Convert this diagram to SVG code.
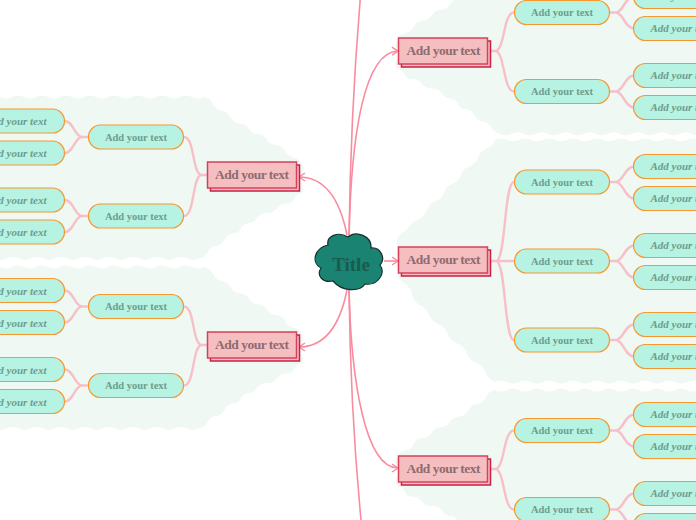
<svg xmlns="http://www.w3.org/2000/svg" xmlns:xlink="http://www.w3.org/1999/xlink" width="696" height="520" viewBox="0 0 696 520">
<style>
text{font-family:"Liberation Serif","DejaVu Serif",serif;text-anchor:middle;font-weight:bold}
.bg{fill:#eff8f3}
.m rect{fill:#f5bfc2;stroke:#d8405a;stroke-width:1.5}
.m rect.s{stroke:#c91f45}
.m text{font-size:13.5px;fill:#8f6b6e}
.b rect{fill:#b6f3e2;stroke:#f5982e;stroke-width:1.2}
.b text{font-size:10.5px;fill:#6f9c90}
.l text{font-style:italic;font-size:11px}
.c{fill:none;stroke:#f98da0;stroke-width:1.6}
.k{fill:none;stroke:#f7c0c9;stroke-width:2.4}
</style>
<defs>
<marker id="a" viewBox="0 0 8 10" refX="7" refY="5" markerWidth="8" markerHeight="10" markerUnits="userSpaceOnUse" orient="auto"><path d="M1 1L7 5L1 9" fill="none" stroke="#f98da0" stroke-width="1.5"/></marker>
<path id="w" class="bg" d="M-12 97q6 -3 12 0q6 3 12 0q6 -3 12 0q6 3 12 0q6 -3 12 0q6 3 12 0q6 -3 12 0q6 3 12 0q6 -3 12 0q6 3 12 0q6 -3 12 0q6 3 12 0q6 -3 12 0q6 3 12 0q6 -3 12 0q6 3 12 0q6 -3 12 0q6 3 12 0q6.3 1.100 9 7q2.700 5.900 9 7q6.300 1.100 9 7q3 5.300 9 5.400q6 .1 9 5.400q3 5.300 9 5.400q6 .1 9 5.400q3 5.300 9 5.400q6 .1 9 5.400q2.350 5.800 8.500 7q-.15 3 0 0q6.150 1.200 8.500 7q3 4.850 0 9.700q-3 4.850 0 9.700q3 4.850 0 9.700q-5.450 0 -7.500 5q-2.050 5 -7.500 5q-6.300 -.35 -10 4.700q-3.700 5.050 -10 4.700q-6.300 -.35 -10 4.700q-2.350 5.150 -8 5.300q-5.650 .15 -8 5.300q-2.350 5.150 -8 5.300q-6.020 .67 -8.500 6.200q-2.480 5.530 -8.500 6.200q-6.020 .67 -8.500 6.200q-2.480 5.530 -8.500 6.200q-6 3 -12 0q-6 -3 -12 0q-6 3 -12 0q-6 -3 -12 0q-6 3 -12 0q-6 -3 -12 0q-6 3 -12 0q-6 -3 -12 0q-6 3 -12 0q-6 -3 -12 0q-6 3 -12 0q-6 -3 -12 0q-6 3 -12 0q-6 -3 -12 0q-6 3 -12 0q-6 -3 -12 0q-6 3 -12 0q-6 -3 -12 0Z"/>
</defs>
<g id="backgrounds">
<use xlink:href="#w" href="#w"/>
<use xlink:href="#w" href="#w" transform="translate(0 170)"/>
<use xlink:href="#w" href="#w" transform="matrix(-1 0 0 1 699 -124.5)"/>
<use xlink:href="#w" href="#w" transform="matrix(-1 0 0 1 699 293)"/>
<path class="bg" d="M397 240q2.900 -7.100 10 -10q2.900 -7.100 10 -10q7.100 -2.900 10 -10q2.150 -6.450 8.500 -8.750q6.350 -2.350 8.500 -8.750q-.01 0 0 0q2.150 -6.450 8.500 -8.750q6.350 -2.350 8.500 -8.750q2.150 -6.450 8.500 -8.750q6.350 -2.350 8.500 -8.750q2.150 -6.450 8.500 -8.750q6.350 -2.350 8.500 -8.750q6 -3 12 0q6 3 12 0q6 -3 12 0q6 3 12 0q6 -3 12 0q6 3 12 0q6 -3 12 0q6 3 12 0q6 -3 12 0q6 3 12 0q6 -3 12 0q6 3 12 0q6 -3 12 0q6 3 12 0q6 -3 12 0q6 3 12 0q6 -3 12 0q6 3 12 0L711 382q-6 3 -12 0q-6 -3 -12 0q-6 3 -12 0q-6 -3 -12 0q-6 3 -12 0q-6 -3 -12 0q-6 3 -12 0q-6 -3 -12 0q-6 3 -12 0q-6 -3 -12 0q-6 3 -12 0q-6 -3 -12 0q-6 3 -12 0q-6 -3 -12 0q-6 3 -12 0q-6 -3 -12 0q-6 3 -12 0q-6 -3 -12 0q-6.800 -2.700 -9.400 -9.600q-2.600 -6.900 -9.400 -9.600q-6.800 -2.700 -9.400 -9.600q-2.600 -6.900 -9.400 -9.600q-6.800 -2.700 -9.400 -9.600q-2.600 -6.900 -9.400 -9.600q-6.800 -2.700 -9.400 -9.600q-2.600 -6.900 -9.400 -9.600q-6.300 -3.800 -7.700 -11q-1.400 -7.200 -7.700 -11q-6.300 -3.800 -7.700 -11Z"/>
</g>
<g id="connectors">
<path class="c" d="M349 240C350 150 355 60 361 -10"/>
<path class="c" d="M349 288C350 380 355 460 362 530"/>
<path class="c" marker-end="url(#a)" d="M349 240C351 130 365 52 398 51"/>
<path class="c" marker-end="url(#a)" d="M349 288C351 380 365 468 398 468"/>
<path class="c" marker-end="url(#a)" d="M347 235C340 200 325 177 299 177"/>
<path class="c" marker-end="url(#a)" d="M347 290C340 325 325 347 299 347"/>
<path class="c" marker-end="url(#a)" d="M384 261H398"/>
<path class="k" d="M490 51H495C505 51 503 12.500 514 12.500M490 51H495C505 51 503 91.500 514 91.500"/>
<path class="k" d="M490 261H496C506 261 504 182 514 182M490 261H514M490 261H496C506 261 504 340 514 340"/>
<path class="k" d="M490 469H495C505 469 503 430.500 514 430.500M490 469H495C505 469 503 509.500 514 509.500"/>
<path class="k" d="M207 175H202C192 175 195 137 184 137M207 175H202C192 175 195 216 184 216"/>
<path class="k" d="M207 345H202C192 345 195 306.500 184 306.500M207 345H202C192 345 195 385.500 184 385.500"/>
<path class="k" d="M609 12.500H616C623 12.500 625 -3.500 634 -3.500M609 12.500H616C623 12.500 625 28.500 634 28.500M609 91.500H616C623 91.500 625 75.500 634 75.500M609 91.500H616C623 91.500 625 107.500 634 107.500"/>
<path class="k" d="M609 182H616C623 182 625 166.500 634 166.500M609 182H616C623 182 625 198.500 634 198.500M609 261H616C623 261 625 245.500 634 245.500M609 261H616C623 261 625 277.500 634 277.500M609 340H616C623 340 625 324.500 634 324.500M609 340H616C623 340 625 356.500 634 356.500"/>
<path class="k" d="M609 430.500H616C623 430.500 625 414.500 634 414.500M609 430.500H616C623 430.500 625 446.500 634 446.500M609 509.500H616C623 509.500 625 493.500 634 493.500M609 509.500H616C623 509.500 625 525.500 634 525.500"/>
<path class="k" d="M89 137H82C75 137 73 121 65 121M89 137H82C75 137 73 153 65 153M89 216H82C75 216 73 200 65 200M89 216H82C75 216 73 232 65 232"/>
<path class="k" d="M89 306.500H82C75 306.500 73 290.500 65 290.500M89 306.500H82C75 306.500 73 322.500 65 322.500M89 385.500H82C75 385.500 73 369.500 65 369.500M89 385.500H82C75 385.500 73 401.500 65 401.500"/>
</g>
<g id="root"><path d="M328 245C326 236 338 231 348 237C356 230 372 236 371 248C381 247 386 259 380 265C386 273 378 286 365 284C360 292 342 292 333 281C323 283 316 276 321 268C311 263 314 248 328 245Z" fill="#1b8372" stroke="#17302c" stroke-width="1.2"/><text x="351" y="271" font-size="19" fill="#175c50">Title</text></g>
<g id="main1" class="m"><rect class="s" x="401.500" y="41" width="89" height="26"/><rect x="398.500" y="38" width="89" height="26"/><text x="443.500" y="55" textLength="74">Add your text</text></g>
<g id="main2" class="m"><rect class="s" x="401.500" y="250" width="89" height="26"/><rect x="398.500" y="247" width="89" height="26"/><text x="443.500" y="264" textLength="74">Add your text</text></g>
<g id="main3" class="m"><rect class="s" x="401.500" y="459" width="89" height="26"/><rect x="398.500" y="456" width="89" height="26"/><text x="443.500" y="473" textLength="74">Add your text</text></g>
<g id="main4" class="m"><rect class="s" x="210.500" y="165" width="89" height="26"/><rect x="207.500" y="162" width="89" height="26"/><text x="252" y="179" textLength="74">Add your text</text></g>
<g id="main5" class="m"><rect class="s" x="210.500" y="335" width="89" height="26"/><rect x="207.500" y="332" width="89" height="26"/><text x="252" y="349" textLength="74">Add your text</text></g>
<g id="s1" class="b"><rect x="514.500" y="0.500" width="95" height="24" rx="12"/><text x="562" y="16">Add your text</text></g>
<g id="s2" class="b"><rect x="514.500" y="79.500" width="95" height="24" rx="12"/><text x="562" y="95">Add your text</text></g>
<g id="s3" class="b"><rect x="514.500" y="170" width="95" height="24" rx="12"/><text x="562" y="186">Add your text</text></g>
<g id="s4" class="b"><rect x="514.500" y="249" width="95" height="24" rx="12"/><text x="562" y="265">Add your text</text></g>
<g id="s5" class="b"><rect x="514.500" y="328" width="95" height="24" rx="12"/><text x="562" y="344">Add your text</text></g>
<g id="s6" class="b"><rect x="514.500" y="418.500" width="95" height="24" rx="12"/><text x="562" y="434">Add your text</text></g>
<g id="s7" class="b"><rect x="514.500" y="497.500" width="95" height="24" rx="12"/><text x="562" y="513">Add your text</text></g>
<g id="s8" class="b"><rect x="88.500" y="125" width="95" height="24" rx="12"/><text x="136" y="141">Add your text</text></g>
<g id="s9" class="b"><rect x="88.500" y="204" width="95" height="24" rx="12"/><text x="136" y="220">Add your text</text></g>
<g id="s10" class="b"><rect x="88.500" y="294.500" width="95" height="24" rx="12"/><text x="136" y="310">Add your text</text></g>
<g id="s11" class="b"><rect x="88.500" y="373.500" width="95" height="24" rx="12"/><text x="136" y="389">Add your text</text></g>
<g id="l1" class="b l"><rect x="633.500" y="-15.500" width="95" height="24" rx="12"/><text x="681" y="0">Add your text</text></g>
<g id="l2" class="b l"><rect x="633.500" y="16.500" width="95" height="24" rx="12"/><text x="681" y="32">Add your text</text></g>
<g id="l3" class="b l"><rect x="633.500" y="63.500" width="95" height="24" rx="12"/><text x="681" y="79">Add your text</text></g>
<g id="l4" class="b l"><rect x="633.500" y="95.500" width="95" height="24" rx="12"/><text x="681" y="111">Add your text</text></g>
<g id="l5" class="b l"><rect x="633.500" y="154.500" width="95" height="24" rx="12"/><text x="681" y="170">Add your text</text></g>
<g id="l6" class="b l"><rect x="633.500" y="186.500" width="95" height="24" rx="12"/><text x="681" y="202">Add your text</text></g>
<g id="l7" class="b l"><rect x="633.500" y="233.500" width="95" height="24" rx="12"/><text x="681" y="249">Add your text</text></g>
<g id="l8" class="b l"><rect x="633.500" y="265.500" width="95" height="24" rx="12"/><text x="681" y="281">Add your text</text></g>
<g id="l9" class="b l"><rect x="633.500" y="312.500" width="95" height="24" rx="12"/><text x="681" y="328">Add your text</text></g>
<g id="l10" class="b l"><rect x="633.500" y="344.500" width="95" height="24" rx="12"/><text x="681" y="360">Add your text</text></g>
<g id="l11" class="b l"><rect x="633.500" y="402.500" width="95" height="24" rx="12"/><text x="681" y="418">Add your text</text></g>
<g id="l12" class="b l"><rect x="633.500" y="434.500" width="95" height="24" rx="12"/><text x="681" y="450">Add your text</text></g>
<g id="l13" class="b l"><rect x="633.500" y="481.500" width="95" height="24" rx="12"/><text x="681" y="497">Add your text</text></g>
<g id="l14" class="b l"><rect x="633.500" y="513.500" width="95" height="24" rx="12"/><text x="681" y="529">Add your text</text></g>
<g id="l15" class="b l"><rect x="-30.500" y="109" width="95" height="24" rx="12"/><text x="16" y="125">Add your text</text></g>
<g id="l16" class="b l"><rect x="-30.500" y="141" width="95" height="24" rx="12"/><text x="16" y="157">Add your text</text></g>
<g id="l17" class="b l"><rect x="-30.500" y="188" width="95" height="24" rx="12"/><text x="16" y="204">Add your text</text></g>
<g id="l18" class="b l"><rect x="-30.500" y="220" width="95" height="24" rx="12"/><text x="16" y="236">Add your text</text></g>
<g id="l19" class="b l"><rect x="-30.500" y="278.500" width="95" height="24" rx="12"/><text x="16" y="294.500">Add your text</text></g>
<g id="l20" class="b l"><rect x="-30.500" y="310.500" width="95" height="24" rx="12"/><text x="16" y="326.500">Add your text</text></g>
<g id="l21" class="b l"><rect x="-30.500" y="357.500" width="95" height="24" rx="12"/><text x="16" y="373.500">Add your text</text></g>
<g id="l22" class="b l"><rect x="-30.500" y="389.500" width="95" height="24" rx="12"/><text x="16" y="405.500">Add your text</text></g>
</svg>
